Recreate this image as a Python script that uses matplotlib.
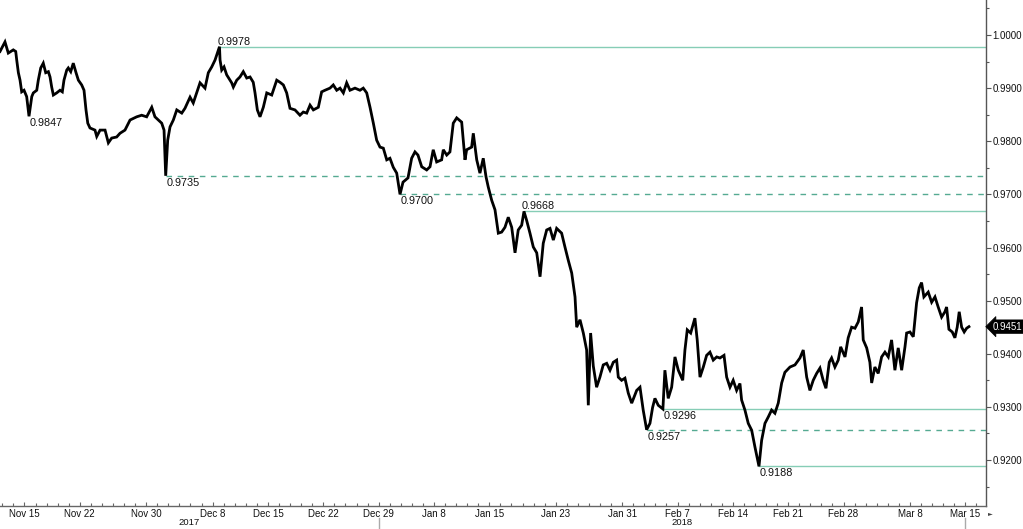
import numpy as np
import matplotlib
matplotlib.use('Agg')
import matplotlib.pyplot as plt
from matplotlib.transforms import blended_transform_factory
from matplotlib.ticker import FixedLocator, FormatStrFormatter, MultipleLocator

plt.rcParams['font.family'] = ['Liberation Sans', 'DejaVu Sans']

# ---------------- data ----------------
start_day = '2017-11-15'          # trading-day offset 0
holidays = ['2018-01-01']

# trading days elapsed since start_day
t_days = [
    -2.21, -1.76, -1.46, -1.01, -0.79, -0.70, -0.55, -0.40, -0.25, -0.04,
    0.20, 0.41, 0.66, 0.80, 1.11, 1.25, 1.47, 1.70, 1.92, 2.16,
    2.31, 2.46, 2.61, 2.91, 3.21, 3.42, 3.57, 3.82, 3.96, 4.18,
    4.41, 4.66, 4.87, 5.17, 5.38, 5.56, 5.72, 5.92, 6.37, 6.53,
    6.83, 7.28, 7.58, 7.88, 8.33, 8.63, 9.08, 9.54, 10.14, 10.59,
    11.04, 11.50, 11.79, 12.09, 12.40, 12.61, 12.76, 12.94, 13.15, 13.45,
    13.76, 14.21, 14.50, 14.96, 15.25, 15.56, 15.86,
    16.31, 16.61, 16.92, 17.22, 17.62, 17.67, 17.82, 18.03, 18.27, 18.72,
    18.87, 19.18, 19.47, 19.77, 20.08, 20.38, 20.67, 20.83, 21.04, 21.28,
    21.58, 21.89, 22.34, 22.79, 23.09, 23.39, 23.69, 23.99, 24.44, 24.89,
    25.19, 25.50, 25.80, 26.10, 26.55, 26.85, 27.15, 27.60, 27.90, 28.21,
    28.51, 28.81, 29.11, 29.41, 29.86, 30.31, 30.61, 30.92, 31.22, 31.52,
    31.82, 32.12, 32.42, 32.73, 33.02, 33.32, 33.63, 33.93,
    34.20, 34.65, 34.98, 35.28, 35.55, 35.89, 36.34, 36.64, 36.93, 37.24,
    37.69, 37.84, 38.15, 38.44, 38.74, 39.05, 39.50, 39.80, 39.95, 40.40,
    40.55, 40.86, 41.15, 41.45, 41.70, 41.90, 42.21, 42.51, 42.81, 43.11,
    43.41, 43.71, 44.02, 44.32, 44.61, 44.92, 45.13, 45.37, 45.67, 45.97,
    46.28, 46.58, 46.87, 47.18, 47.48, 47.78, 48.08, 48.53, 48.83, 49.13,
    49.44, 49.74, 49.89, 50.19, 50.49, 50.79, 50.94, 51.15, 51.39, 51.69,
    51.99,
    52.29, 52.60, 52.90, 53.20, 53.50, 53.65, 53.95, 54.25, 54.55, 54.86,
    55.31, 55.61, 55.90, 56.21, 56.51, 56.75, 56.96, 57.26, 57.68, 57.86,
    58.16, 58.47, 58.77, 59.07, 59.47, 59.67, 59.88, 60.19, 60.57, 60.78,
    61.03, 61.33, 61.63, 61.93, 62.23, 62.54, 62.83, 63.20, 63.44, 63.74,
    64.03, 64.34, 64.64, 64.79, 65.09, 65.39, 65.70, 66.00, 66.36, 66.60,
    66.90, 67.20, 67.50, 67.80, 68.10, 68.41, 68.70, 69.16, 69.61, 70.06,
    70.36, 70.67, 70.96, 71.26, 71.57, 71.87, 72.16, 72.41, 72.71, 72.92,
    73.22, 73.52, 73.74, 74.13, 74.42, 74.73, 75.03, 75.33, 75.63, 75.78,
    76.09, 76.38, 76.54, 76.83, 77.13, 77.44, 77.74, 78.04, 78.34, 78.64,
    78.94, 79.25, 79.55, 79.70, 80.00, 80.30, 80.60, 80.84, 81.05, 81.26,
    81.65, 81.96, 82.26, 82.55, 82.86, 83.16, 83.31, 83.52, 83.82, 84.06,
    84.27, 84.45, 84.67, 84.90, 85.12, 85.33,
]

price = [
    0.9969, 0.9987, 0.9966, 0.9972, 0.9969, 0.9953, 0.9929, 0.9915, 0.9893, 0.9896,
    0.9884, 0.9847, 0.9884, 0.9891, 0.9896, 0.9915, 0.9938, 0.9947, 0.9929, 0.9931,
    0.9921, 0.9902, 0.9887, 0.9891, 0.9896, 0.9893, 0.9915, 0.9934, 0.9938, 0.9931,
    0.9947, 0.9929, 0.9915, 0.9906, 0.9896, 0.9859, 0.9834, 0.9825, 0.9821, 0.9809,
    0.9821, 0.9821, 0.9797, 0.9806, 0.9808, 0.9815, 0.9821, 0.9840, 0.9846, 0.9849,
    0.9846, 0.9864, 0.9846, 0.9840, 0.9834, 0.9821, 0.9735, 0.9802, 0.9827, 0.9840,
    0.9859, 0.9853, 0.9862, 0.9883, 0.9872, 0.9891, 0.9910,
    0.9900, 0.9929, 0.9940, 0.9953, 0.9978, 0.9953, 0.9934, 0.9940, 0.9925, 0.9910,
    0.9902, 0.9915, 0.9921, 0.9931, 0.9919, 0.9921, 0.9911, 0.9891, 0.9859, 0.9846,
    0.9864, 0.9891, 0.9887, 0.9915, 0.9911, 0.9906, 0.9891, 0.9862, 0.9859, 0.9849,
    0.9855, 0.9853, 0.9868, 0.9859, 0.9864, 0.9893, 0.9896, 0.9900, 0.9906, 0.9896,
    0.9900, 0.9891, 0.9910, 0.9896, 0.9900, 0.9896, 0.9900, 0.9891, 0.9864, 0.9834,
    0.9802, 0.9789, 0.9787, 0.9765, 0.9768, 0.9751, 0.9740, 0.9700,
    0.9723, 0.9731, 0.9768, 0.9780, 0.9774, 0.9752, 0.9746, 0.9752, 0.9784, 0.9761,
    0.9765, 0.9784, 0.9774, 0.9780, 0.9834, 0.9844, 0.9836, 0.9765, 0.9784, 0.9789,
    0.9815, 0.9765, 0.9740, 0.9768, 0.9733, 0.9714, 0.9689, 0.9671, 0.9627, 0.9629,
    0.9638, 0.9657, 0.9638, 0.9590, 0.9633, 0.9642, 0.9668, 0.9651, 0.9627, 0.9601,
    0.9590, 0.9545, 0.9608, 0.9633, 0.9636, 0.9614, 0.9636, 0.9627, 0.9601, 0.9576,
    0.9552, 0.9507, 0.9450, 0.9464, 0.9439, 0.9407, 0.9303, 0.9439, 0.9377, 0.9337,
    0.9356,
    0.9379, 0.9382, 0.9369, 0.9384, 0.9388, 0.9356, 0.9350, 0.9354, 0.9326, 0.9307,
    0.9331, 0.9337, 0.9294, 0.9257, 0.9269, 0.9299, 0.9316, 0.9303, 0.9296, 0.9369,
    0.9316, 0.9337, 0.9394, 0.9369, 0.9350, 0.9407, 0.9445, 0.9439, 0.9467, 0.9426,
    0.9356, 0.9375, 0.9397, 0.9403, 0.9388, 0.9394, 0.9392, 0.9397, 0.9356, 0.9337,
    0.9350, 0.9331, 0.9344, 0.9313, 0.9294, 0.9269, 0.9256, 0.9224, 0.9188, 0.9237,
    0.9269, 0.9281, 0.9294, 0.9288, 0.9307, 0.9345, 0.9365, 0.9375, 0.9379, 0.9392,
    0.9407, 0.9356, 0.9331, 0.9350, 0.9363, 0.9373, 0.9350, 0.9335, 0.9384, 0.9392,
    0.9375, 0.9388, 0.9413, 0.9394, 0.9430, 0.9450, 0.9448, 0.9460, 0.9488, 0.9426,
    0.9411, 0.9384, 0.9345, 0.9375, 0.9363, 0.9394, 0.9403, 0.9394, 0.9426, 0.9369,
    0.9411, 0.9369, 0.9413, 0.9439, 0.9441, 0.9432, 0.9496, 0.9524, 0.9534, 0.9507,
    0.9516, 0.9497, 0.9507, 0.9488, 0.9469, 0.9479, 0.9488, 0.9446, 0.9441, 0.9430,
    0.9450, 0.9479, 0.9450, 0.9441, 0.9448, 0.9451,
]

# marked extremes and the horizontal reference lines drawn from them
marked_levels = [0.9978, 0.9847, 0.9735, 0.9700, 0.9668, 0.9296, 0.9257, 0.9188]
level_line = ['solid', None, 'dashed', 'dashed', 'solid', 'solid', 'dashed', 'solid']
label_side = ['above', 'below', 'below', 'below', 'above', 'below', 'below', 'below']

tick_dates = ['2017-11-15', '2017-11-22', '2017-11-30', '2017-12-08', '2017-12-15',
              '2017-12-22', '2017-12-29', '2018-01-08', '2018-01-15', '2018-01-23',
              '2018-01-31', '2018-02-07', '2018-02-14', '2018-02-21', '2018-02-28',
              '2018-03-08', '2018-03-15']
tick_labels = ['Nov 15', 'Nov 22', 'Nov 30', 'Dec 8', 'Dec 15', 'Dec 22', 'Dec 29',
               'Jan 8', 'Jan 15', 'Jan 23', 'Jan 31', 'Feb 7', 'Feb 14', 'Feb 21',
               'Feb 28', 'Mar 8', 'Mar 15']
years = ['2017', '2018']
last_year_tick = '2017-12-29'
last_tick = '2018-03-15'

y_major = [0.92, 0.93, 0.94, 0.95, 0.96, 0.97, 0.98, 0.99, 1.00]

# ---------------- figure ----------------
t = np.array(t_days)
p = np.array(price)

fig = plt.figure(figsize=(10.23, 5.29), dpi=100)
ax = fig.add_axes([0.0, 1 - 506 / 529, 986 / 1023, 506 / 529])

xmin, xmax = -2.21, 86.87
ymin, ymax = 0.91134, 1.00659
ax.set_xlim(xmin, xmax)
ax.set_ylim(ymin, ymax)

line_solid = '#86cdb6'
line_dash = '#55aa92'

for lvl, ls, side in zip(marked_levels, level_line, label_side):
    i = int(np.argmin(np.abs(p - lvl)))
    x0 = t[i]
    if ls is not None:
        ax.plot([x0, xmax], [lvl, lvl], color=line_solid if ls == 'solid' else line_dash,
                lw=1.0, ls='-' if ls == 'solid' else (0, (4, 4)), zorder=1)
    if side == 'above':
        ax.annotate(f'{lvl:.4f}', xy=(x0, lvl), xytext=(-1.5, 0.0), textcoords='offset points',
                    ha='left', va='bottom', fontsize=7.8, color='#111111', zorder=4)
    else:
        ax.annotate(f'{lvl:.4f}', xy=(x0, lvl), xytext=(0.5, -1.5), textcoords='offset points',
                    ha='left', va='top', fontsize=7.8, color='#111111', zorder=4)

ax.plot(t, p, color='black', lw=2.0, zorder=3, solid_joinstyle='miter')

# spines
for s in ['left', 'top']:
    ax.spines[s].set_visible(False)
ax.spines['right'].set_color('#555555')
ax.spines['bottom'].set_color('#666666')
ax.spines['right'].set_linewidth(1.0)
ax.spines['bottom'].set_linewidth(1.0)

# y axis on right
ax.yaxis.tick_right()
ax.yaxis.set_major_locator(FixedLocator(y_major))
ax.yaxis.set_minor_locator(MultipleLocator(0.005))
ax.yaxis.set_major_formatter(FormatStrFormatter('%.4f'))
ax.tick_params(axis='y', which='major', direction='out', length=3.5, width=0.8,
               color='#555555', labelsize=7, pad=1, labelcolor='#111111')
ax.tick_params(axis='y', which='minor', direction='out', length=2.5, width=0.8,
               color='#555555')

# x axis: trading-day scale
tick_pos = np.busday_count(start_day, tick_dates, holidays=holidays)
ax.xaxis.set_major_locator(FixedLocator(tick_pos))
ax.set_xticklabels(tick_labels)
ax.xaxis.set_minor_locator(FixedLocator(np.arange(np.ceil(xmin), np.floor(xmax) + 1)))
ax.tick_params(axis='x', which='major', direction='in', length=3, width=0.8,
               color='#666666', labelsize=7, pad=2.5, labelcolor='#111111')
ax.tick_params(axis='x', which='minor', direction='in', length=2, width=0.8,
               color='#666666')

# year labels and separators
sep = float(np.busday_count(start_day, last_year_tick, holidays=holidays))
endsep = float(np.busday_count(start_day, last_tick, holidays=holidays))
trans = blended_transform_factory(ax.transData, ax.transAxes)
ax.text((xmin + sep) / 2, -0.0335, years[0], transform=trans, ha='center', va='center',
        fontsize=6.8, color='#111111')
ax.text((sep + xmax) / 2, -0.0335, years[1], transform=trans, ha='center', va='center',
        fontsize=6.8, color='#111111')
for xs in (sep, endsep):
    ax.plot([xs, xs], [-0.024, -0.06], transform=trans, color='#aaaaaa', lw=1.0,
            clip_on=False, zorder=0)

# last price tag
last = p[-1]
ytrans = blended_transform_factory(ax.transAxes, ax.transData)
ax.text(1.0 + 7 / 986, last, f'{last:.4f}', transform=ytrans, ha='left', va='center',
        fontsize=7, color='white', zorder=5,
        bbox=dict(boxstyle='larrow,pad=0.18', fc='black', ec='black', lw=0.5))

# small arrow at the end of the time axis
fig.text(988 / 1023, 1 - 514 / 529, '\u25ba', fontsize=4.5, color='#444444',
         ha='left', va='center', family='DejaVu Sans')

fig.savefig('out.png', dpi=100)
